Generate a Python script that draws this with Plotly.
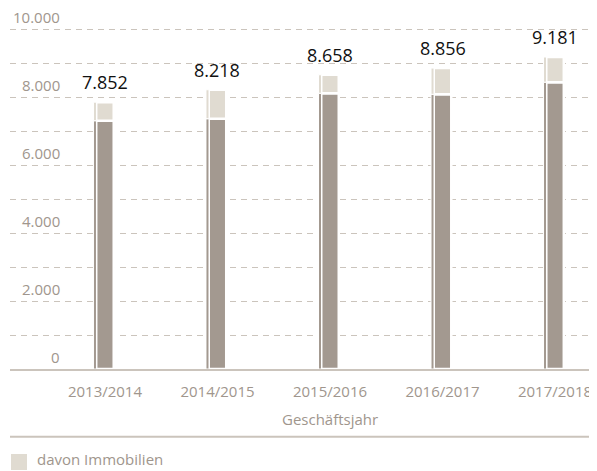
import plotly.graph_objects as go

# ---- data ----
categories = ["2013/2014", "2014/2015", "2015/2016", "2016/2017", "2017/2018"]
totals = [7852, 8218, 8658, 8856, 9181]
immobilien = [546, 853, 543, 771, 740]
rest = [t - i for t, i in zip(totals, immobilien)]
ytick_values = [0, 2000, 4000, 6000, 8000, 10000]
grid_values = [1000, 2000, 3000, 4000, 5000, 6000, 7000, 8000, 9000, 10000]
x_title = "Geschäftsjahr"
legend_name = "davon Immobilien"


def de_fmt(v):
    return f"{v:,}".replace(",", ".")


DARK = "#a39990"
LIGHT = "#e0dbd1"
GRID = "#cbc4bc"
TXT = "#a0968d"
FONT = "Open Sans"

fig = go.Figure()

x_idx = list(range(len(categories)))
main_w = 0.1556
main_off = -main_w / 2
sl_w = 0.0267
sl_off = -0.1022

fig.add_trace(go.Bar(x=x_idx, y=rest, width=[main_w] * 5, offset=main_off,
                     marker=dict(color=DARK, line=dict(color="white", width=2.5)),
                     showlegend=False, hoverinfo="skip"))
fig.add_trace(go.Bar(x=x_idx, y=immobilien, base=rest, width=[main_w] * 5, offset=main_off,
                     marker=dict(color=LIGHT, line=dict(color="white", width=2.5)),
                     name=legend_name, showlegend=False, hoverinfo="skip"))
fig.add_trace(go.Bar(x=x_idx, y=rest, width=[sl_w] * 5, offset=sl_off,
                     marker=dict(color=DARK, line=dict(color="white", width=1)),
                     showlegend=False, hoverinfo="skip"))
fig.add_trace(go.Bar(x=x_idx, y=immobilien, base=rest, width=[sl_w] * 5, offset=sl_off,
                     marker=dict(color=LIGHT, line=dict(color="white", width=1)),
                     showlegend=False, hoverinfo="skip"))

annotations = []
for i, t in enumerate(totals):
    annotations.append(dict(x=i, y=t, xref="x", yref="y", text=de_fmt(t),
                            showarrow=False, yanchor="bottom", yshift=6,
                            font=dict(family=FONT, size=18, color="#111111")))
for v in ytick_values:
    annotations.append(dict(x=0.0886, y=v, xref="paper", yref="y", text=de_fmt(v),
                            showarrow=False, xanchor="right", yanchor="bottom", yshift=0,
                            font=dict(family=FONT, size=15, color=TXT)))
annotations.append(dict(x=2, y=-0.143, xref="x", yref="paper", text=x_title,
                        showarrow=False, yanchor="middle",
                        font=dict(family=FONT, size=15, color=TXT)))
# legend entry (drawn manually so it does not push the margins)
annotations.append(dict(x=0.0426, y=-0.2914, xref="paper", yref="paper", text=legend_name,
                        showarrow=False, xanchor="left", yanchor="bottom",
                        font=dict(family=FONT, size=15, color=TXT)))

fig.update_layout(
    width=589, height=463,
    margin=dict(l=2, r=0, t=11, b=102),
    paper_bgcolor="white", plot_bgcolor="white",
    barmode="overlay",
    showlegend=False,
    font=dict(family=FONT, color=TXT),
    xaxis=dict(range=[-0.844, 4.373], tickvals=x_idx, ticktext=categories,
               showgrid=False, zeroline=False, showline=True, linecolor=GRID,
               linewidth=2, ticks="", ticklabelstandoff=8,
               tickfont=dict(family=FONT, size=15, color=TXT)),
    yaxis=dict(range=[0, 10300], tickvals=grid_values, showticklabels=False,
               showgrid=True, gridcolor=GRID, gridwidth=1, griddash="6px,5px",
               zeroline=False, showline=False, ticks=""),
    annotations=annotations,
    shapes=[
        dict(type="line", xref="paper", yref="paper", x0=0, x1=1,
             y0=-0.1934, y1=-0.1934, line=dict(color=GRID, width=2)),
        dict(type="rect", xref="paper", yref="paper", x0=0.0017, x1=0.029,
             y0=-0.2429, y1=-0.2886, fillcolor=LIGHT, line=dict(width=0)),
    ],
)

fig.write_html("out.html")
